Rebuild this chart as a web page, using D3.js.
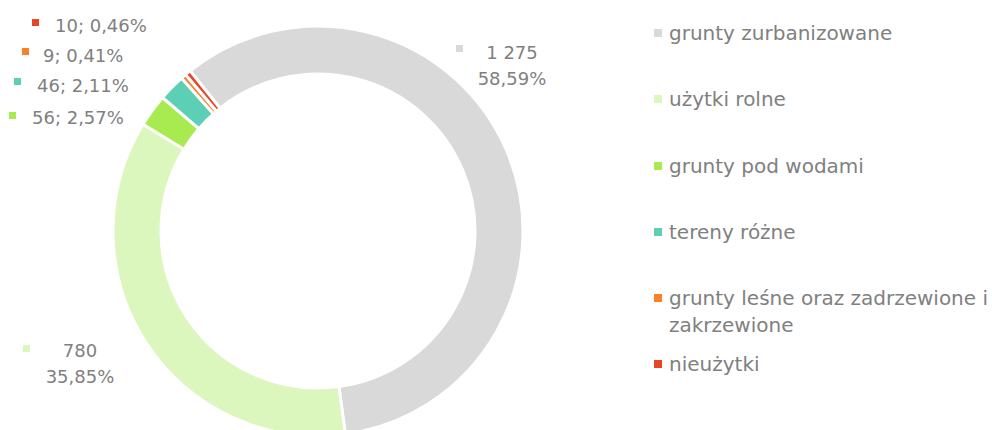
<!DOCTYPE html>
<html>
<head>
<meta charset="utf-8">
<script src="https://cdn.jsdelivr.net/npm/d3@7"></script>
<style>
  body { margin: 0; background: #fff; }
  text { font-family: "DejaVu Sans", sans-serif; fill: #808080; }
</style>
</head>
<body>
<div id="chart"></div>
<script>
// data
let categories = ["grunty zurbanizowane", "użytki rolne", "grunty pod wodami", "tereny różne", "grunty leśne oraz zadrzewione i zakrzewione", "nieużytki"];
let values = [1275, 780, 56, 46, 9, 10];
let percentLabels = ["58,59%", "35,85%", "2,57%", "2,11%", "0,41%", "0,46%"];
let valueLabels = ["1 275", "780", "56", "46", "9", "10"];
let colors = ["#d9d9d9", "#dbf7bd", "#a8eb50", "#5dcfb4", "#fd7f27", "#ea4426"];

let svgWidth = 992;
let svgHeight = 430;

let cx = 318, cy = 231;
let outerR = 205, innerR = 157;

let svg = d3.select("#chart")
  .append("svg")
  .attr("width", svgWidth)
  .attr("height", svgHeight);

let data = categories.map((c, i) => ({
  name: c, value: values[i], pct: percentLabels[i], lab: valueLabels[i], color: colors[i]
}));

// first slice starts a bit left of the top
let startAngle = -38.6 * Math.PI / 180;
let pie = d3.pie()
  .sort(null)
  .value(d => d.value)
  .startAngle(startAngle)
  .endAngle(startAngle + 2 * Math.PI);

let arc = d3.arc().innerRadius(innerR).outerRadius(outerR);

let g = svg.append("g").attr("transform", `translate(${cx}, ${cy})`);

g.selectAll("path")
  .data(pie(data))
  .enter()
  .append("path")
  .attr("d", arc)
  .attr("fill", d => d.data.color)
  .attr("stroke", "#fff")
  .attr("stroke-width", 3);

// data labels (positions picked to match the original layout)
let labelPos = [
  { mx: 460, my: 49, tx: 512, ty: 59, two: true },
  { mx: 27, my: 349, tx: 80, ty: 357, two: true },
  { mx: 13, my: 116, tx: 32, ty: 124, two: false },
  { mx: 18, my: 82, tx: 37, ty: 92, two: false },
  { mx: 26, my: 52, tx: 43, ty: 62, two: false },
  { mx: 36, my: 23, tx: 55, ty: 32, two: false }
];

let labels = svg.append("g");
data.forEach((d, i) => {
  let p = labelPos[i];
  labels.append("rect")
    .attr("x", p.mx - 4).attr("y", p.my - 4)
    .attr("width", 7).attr("height", 7)
    .attr("fill", d.color);
  if (p.two) {
    let t = labels.append("text")
      .attr("text-anchor", "middle")
      .style("font-size", "18px");
    t.append("tspan").attr("x", p.tx).attr("y", p.ty).text(d.lab);
    t.append("tspan").attr("x", p.tx).attr("y", p.ty + 26).text(d.pct);
  } else {
    labels.append("text")
      .attr("x", p.tx).attr("y", p.ty)
      .style("font-size", "18px")
      .text(d.lab + "; " + d.pct);
  }
});

// legend
let legend = svg.append("g").attr("transform", "translate(654, 0)");
let legendY = [33, 99, 166, 232, 298, 364];
data.forEach((d, i) => {
  legend.append("rect")
    .attr("x", 0).attr("y", legendY[i] - 4)
    .attr("width", 8).attr("height", 8)
    .attr("fill", d.color);
  let t = legend.append("text").style("font-size", "20px");
  if (i === 4) {
    t.append("tspan").attr("x", 15).attr("y", legendY[i] + 7).text("grunty leśne oraz zadrzewione i");
    t.append("tspan").attr("x", 15).attr("y", legendY[i] + 34).text("zakrzewione");
  } else {
    t.append("tspan").attr("x", 15).attr("y", legendY[i] + 7).text(d.name);
  }
});
</script>
</body>
</html>
